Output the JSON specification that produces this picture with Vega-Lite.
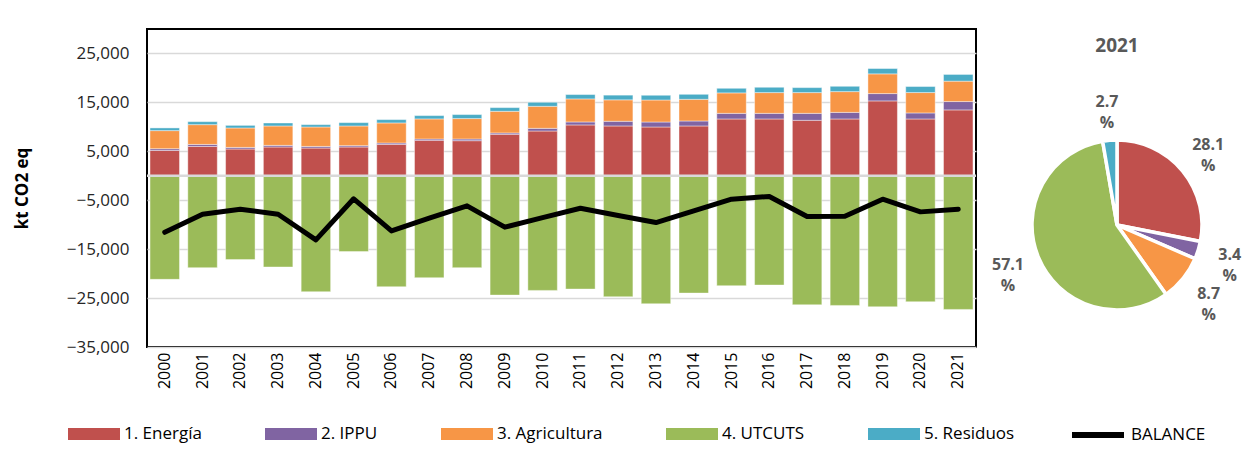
{
  "$schema": "https://vega.github.io/schema/vega-lite/v6.json",
  "padding": {"left": 12, "top": 28, "right": 0, "bottom": 0},
  "background": "white",
  "config": {"font": "Open Sans", "view": {"stroke": null}},
  "datasets": {
    "bars": [
      {"year":"2000","cat":"1. Energía","value":5180},{"year":"2000","cat":"2. IPPU","value":350},{"year":"2000","cat":"3. Agricultura","value":3700},{"year":"2000","cat":"4. UTCUTS","value":-21170},{"year":"2000","cat":"5. Residuos","value":550},
      {"year":"2001","cat":"1. Energía","value":6000},{"year":"2001","cat":"2. IPPU","value":410},{"year":"2001","cat":"3. Agricultura","value":4040},{"year":"2001","cat":"4. UTCUTS","value":-18780},{"year":"2001","cat":"5. Residuos","value":610},
      {"year":"2002","cat":"1. Energía","value":5470},{"year":"2002","cat":"2. IPPU","value":330},{"year":"2002","cat":"3. Agricultura","value":3970},{"year":"2002","cat":"4. UTCUTS","value":-17140},{"year":"2002","cat":"5. Residuos","value":530},
      {"year":"2003","cat":"1. Energía","value":5880},{"year":"2003","cat":"2. IPPU","value":330},{"year":"2003","cat":"3. Agricultura","value":3970},{"year":"2003","cat":"4. UTCUTS","value":-18650},{"year":"2003","cat":"5. Residuos","value":610},
      {"year":"2004","cat":"1. Energía","value":5670},{"year":"2004","cat":"2. IPPU","value":330},{"year":"2004","cat":"3. Agricultura","value":3970},{"year":"2004","cat":"4. UTCUTS","value":-23700},{"year":"2004","cat":"5. Residuos","value":480},
      {"year":"2005","cat":"1. Energía","value":5880},{"year":"2005","cat":"2. IPPU","value":270},{"year":"2005","cat":"3. Agricultura","value":4030},{"year":"2005","cat":"4. UTCUTS","value":-15500},{"year":"2005","cat":"5. Residuos","value":680},
      {"year":"2006","cat":"1. Energía","value":6420},{"year":"2006","cat":"2. IPPU","value":280},{"year":"2006","cat":"3. Agricultura","value":4100},{"year":"2006","cat":"4. UTCUTS","value":-22680},{"year":"2006","cat":"5. Residuos","value":680},
      {"year":"2007","cat":"1. Energía","value":7240},{"year":"2007","cat":"2. IPPU","value":280},{"year":"2007","cat":"3. Agricultura","value":4100},{"year":"2007","cat":"4. UTCUTS","value":-20830},{"year":"2007","cat":"5. Residuos","value":680},
      {"year":"2008","cat":"1. Energía","value":7170},{"year":"2008","cat":"2. IPPU","value":350},{"year":"2008","cat":"3. Agricultura","value":4170},{"year":"2008","cat":"4. UTCUTS","value":-18780},{"year":"2008","cat":"5. Residuos","value":820},
      {"year":"2009","cat":"1. Energía","value":8470},{"year":"2009","cat":"2. IPPU","value":280},{"year":"2009","cat":"3. Agricultura","value":4430},{"year":"2009","cat":"4. UTCUTS","value":-24390},{"year":"2009","cat":"5. Residuos","value":750},
      {"year":"2010","cat":"1. Energía","value":9150},{"year":"2010","cat":"2. IPPU","value":550},{"year":"2010","cat":"3. Agricultura","value":4500},{"year":"2010","cat":"4. UTCUTS","value":-23430},{"year":"2010","cat":"5. Residuos","value":820},
      {"year":"2011","cat":"1. Energía","value":10390},{"year":"2011","cat":"2. IPPU","value":610},{"year":"2011","cat":"3. Agricultura","value":4710},{"year":"2011","cat":"4. UTCUTS","value":-23160},{"year":"2011","cat":"5. Residuos","value":890},
      {"year":"2012","cat":"1. Energía","value":10180},{"year":"2012","cat":"2. IPPU","value":960},{"year":"2012","cat":"3. Agricultura","value":4380},{"year":"2012","cat":"4. UTCUTS","value":-24730},{"year":"2012","cat":"5. Residuos","value":960},
      {"year":"2013","cat":"1. Energía","value":9970},{"year":"2013","cat":"2. IPPU","value":1020},{"year":"2013","cat":"3. Agricultura","value":4500},{"year":"2013","cat":"4. UTCUTS","value":-26160},{"year":"2013","cat":"5. Residuos","value":960},
      {"year":"2014","cat":"1. Energía","value":10180},{"year":"2014","cat":"2. IPPU","value":1020},{"year":"2014","cat":"3. Agricultura","value":4430},{"year":"2014","cat":"4. UTCUTS","value":-23980},{"year":"2014","cat":"5. Residuos","value":1020},
      {"year":"2015","cat":"1. Energía","value":11610},{"year":"2015","cat":"2. IPPU","value":1150},{"year":"2015","cat":"3. Agricultura","value":4180},{"year":"2015","cat":"4. UTCUTS","value":-22470},{"year":"2015","cat":"5. Residuos","value":940},
      {"year":"2016","cat":"1. Energía","value":11610},{"year":"2016","cat":"2. IPPU","value":1150},{"year":"2016","cat":"3. Agricultura","value":4240},{"year":"2016","cat":"4. UTCUTS","value":-22340},{"year":"2016","cat":"5. Residuos","value":1090},
      {"year":"2017","cat":"1. Energía","value":11330},{"year":"2017","cat":"2. IPPU","value":1430},{"year":"2017","cat":"3. Agricultura","value":4240},{"year":"2017","cat":"4. UTCUTS","value":-26370},{"year":"2017","cat":"5. Residuos","value":1020},
      {"year":"2018","cat":"1. Energía","value":11610},{"year":"2018","cat":"2. IPPU","value":1350},{"year":"2018","cat":"3. Agricultura","value":4240},{"year":"2018","cat":"4. UTCUTS","value":-26500},{"year":"2018","cat":"5. Residuos","value":1090},
      {"year":"2019","cat":"1. Energía","value":15300},{"year":"2019","cat":"2. IPPU","value":1500},{"year":"2019","cat":"3. Agricultura","value":4030},{"year":"2019","cat":"4. UTCUTS","value":-26780},{"year":"2019","cat":"5. Residuos","value":1090},
      {"year":"2020","cat":"1. Energía","value":11610},{"year":"2020","cat":"2. IPPU","value":1230},{"year":"2020","cat":"3. Agricultura","value":4170},{"year":"2020","cat":"4. UTCUTS","value":-25750},{"year":"2020","cat":"5. Residuos","value":1230},
      {"year":"2021","cat":"1. Energía","value":13460},{"year":"2021","cat":"2. IPPU","value":1710},{"year":"2021","cat":"3. Agricultura","value":4170},{"year":"2021","cat":"4. UTCUTS","value":-27320},{"year":"2021","cat":"5. Residuos","value":1370}
    ],
    "balance": [
      {"year":"2000","series":"BALANCE","value":-11550},{"year":"2001","series":"BALANCE","value":-7860},{"year":"2002","series":"BALANCE","value":-6830},{"year":"2003","series":"BALANCE","value":-7860},
      {"year":"2004","series":"BALANCE","value":-13100},{"year":"2005","series":"BALANCE","value":-4710},{"year":"2006","series":"BALANCE","value":-11270},{"year":"2007","series":"BALANCE","value":-8670},
      {"year":"2008","series":"BALANCE","value":-6150},{"year":"2009","series":"BALANCE","value":-10500},{"year":"2010","series":"BALANCE","value":-8540},{"year":"2011","series":"BALANCE","value":-6630},
      {"year":"2012","series":"BALANCE","value":-8130},{"year":"2013","series":"BALANCE","value":-9560},{"year":"2014","series":"BALANCE","value":-7170},{"year":"2015","series":"BALANCE","value":-4780},
      {"year":"2016","series":"BALANCE","value":-4230},{"year":"2017","series":"BALANCE","value":-8330},{"year":"2018","series":"BALANCE","value":-8270},{"year":"2019","series":"BALANCE","value":-4780},
      {"year":"2020","series":"BALANCE","value":-7380},{"year":"2021","series":"BALANCE","value":-6830}
    ],
    "pie": [
      {"cat":"1. Energía","pct":28.1,"label":"28.1\n%"},
      {"cat":"2. IPPU","pct":3.4,"label":"3.4\n%"},
      {"cat":"3. Agricultura","pct":8.7,"label":"8.7\n%"},
      {"cat":"4. UTCUTS","pct":57.1,"label":"57.1\n%"},
      {"cat":"5. Residuos","pct":2.7,"label":"2.7\n%"}
    ]
  },
  "spacing": 12,
  "resolve": {"scale": {"fill": "shared"}, "legend": {"fill": "shared"}},
  "hconcat": [
    {
      "width": 829,
      "height": 318,
      "view": {"stroke": "black", "strokeWidth": 2},
      "layer": [
        {
          "data": {"name": "bars"},
          "mark": {"type": "bar", "stroke": "white", "strokeWidth": 0.6, "strokeOpacity": 0.7},
          "encoding": {
            "x": {"field": "year", "type": "ordinal",
                  "scale": {"paddingInner": 0.22, "paddingOuter": 0.08},
                  "axis": {"title": null, "labelAngle": -90, "labelFontSize": 16, "labelColor": "#000", "labelPadding": 5, "ticks": false, "domain": false}},
            "y": {"field": "value", "type": "quantitative", "stack": "zero",
                  "scale": {"domain": [-35000, 30000], "nice": false, "zero": false},
                  "axis": {"values": [-35000, -25000, -15000, -5000, 5000, 15000, 25000], "format": ",.0f",
                           "title": "kt CO2 eq", "titleFontSize": 17, "titleFontWeight": "bold", "titleColor": "#000", "titlePadding": 35,
                           "labelFontSize": 17, "labelColor": "#262626", "labelPadding": 18, "ticks": false, "domain": false,
                           "gridColor": "#d9d9d9", "gridWidth": 1.5}},
            "fill": {"field": "cat", "type": "nominal",
                      "scale": {"domain": ["1. Energía", "2. IPPU", "3. Agricultura", "4. UTCUTS", "5. Residuos"],
                                "range": ["#C0504D", "#8064A2", "#F79646", "#9BBB59", "#4BACC6"]},
                      "legend": {"orient": "none", "legendX": -79, "legendY": 379, "direction": "horizontal", "title": null,
                                 "symbolType": "M-1,-0.23H1V0.23H-1Z", "symbolSize": 2704, "symbolStrokeWidth": 0,
                                 "labelFontSize": 17, "labelColor": "#000", "labelOffset": 4, "columnPadding": 63}},
            "order": {"field": "cat"}
          }
        },
        {
          "data": {"values": [{}]},
          "mark": {"type": "rule", "color": "#d9d9d9", "strokeWidth": 2.5},
          "encoding": {"y": {"datum": 0}}
        },
        {
          "data": {"name": "balance"},
          "mark": {"type": "line", "strokeWidth": 5, "strokeCap": "round", "strokeJoin": "round"},
          "encoding": {
            "x": {"field": "year", "type": "ordinal"},
            "y": {"field": "value", "type": "quantitative"},
            "stroke": {"field": "series", "type": "nominal", "scale": {"domain": ["BALANCE"], "range": ["#000000"]},
                       "legend": {"orient": "none", "legendX": 922, "legendY": 377, "title": null,
                                  "symbolType": "stroke", "symbolSize": 2704, "symbolStrokeWidth": 6,
                                  "labelFontSize": 17, "labelColor": "#000", "labelOffset": 4}}
          }
        }
      ]
    },
    {
      "width": 200,
      "height": 392,
      "title": {"text": "2021", "offset": -27, "fontSize": 19, "fontWeight": "bold", "color": "#595959", "anchor": "middle"},
      "data": {"name": "pie"},
      "encoding": {
        "theta": {"field": "pct", "type": "quantitative", "stack": true},
        "order": {"field": "cat"}
      },
      "layer": [
        {
          "mark": {"type": "arc", "outerRadius": 85, "stroke": "white", "strokeWidth": 3.5},
          "encoding": {"fill": {"field": "cat", "type": "nominal", "legend": null}}
        },
        {
          "mark": {"type": "text", "radius": 118, "dy": -5, "fontSize": 16, "fontWeight": "bold", "fill": "#595959", "lineBreak": "\n", "lineHeight": 21},
          "encoding": {"text": {"field": "label"}, "detail": {"field": "cat"}}
        }
      ]
    }
  ]
}
